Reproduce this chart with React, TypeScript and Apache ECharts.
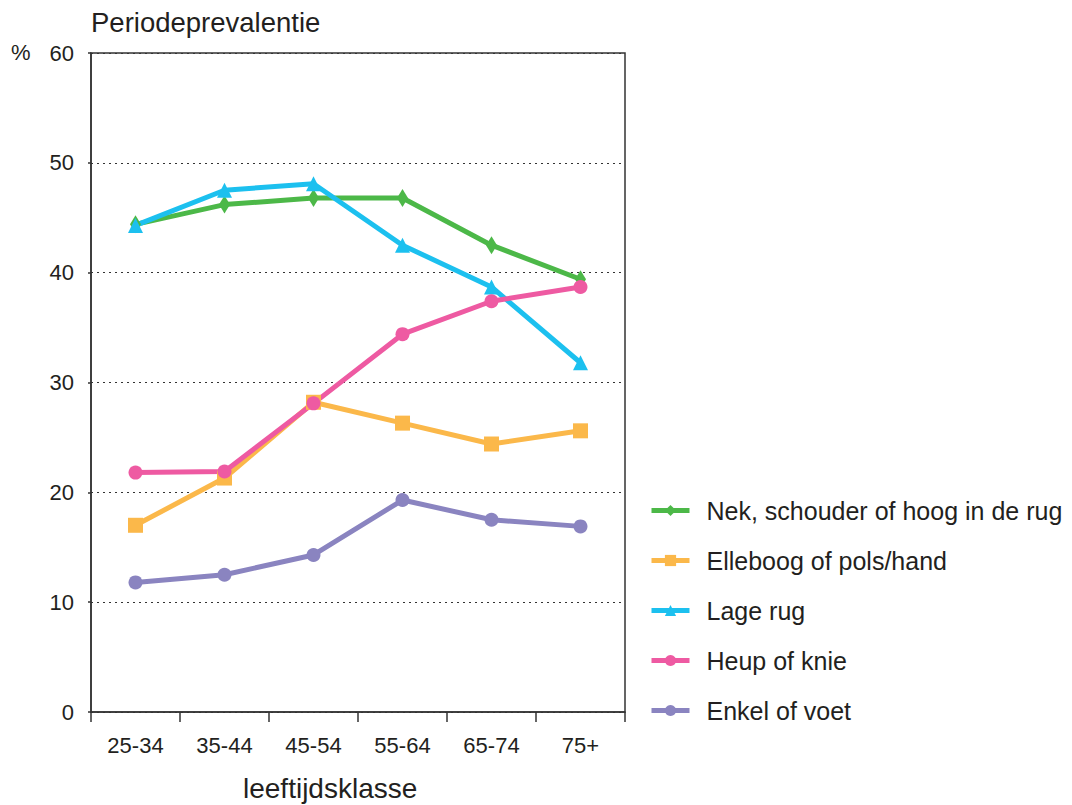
import React, { useEffect, useRef } from "react";
import * as echarts from "echarts";

const categories = ["25-34", "35-44", "45-54", "55-64", "65-74", "75+"];
const yTicks = [0, 10, 20, 30, 40, 50, 60];
const nek = [44.4, 46.2, 46.8, 46.8, 42.5, 39.4];
const elleboog = [17.0, 21.3, 28.2, 26.3, 24.4, 25.6];
const lageRug = [44.3, 47.5, 48.1, 42.5, 38.7, 31.8];
const heup = [21.8, 21.9, 28.1, 34.4, 37.4, 38.7];
const enkel = [11.8, 12.5, 14.3, 19.3, 17.5, 16.9];

const seriesNames = [
  "Nek, schouder of hoog in de rug",
  "Elleboog of pols/hand",
  "Lage rug",
  "Heup of knie",
  "Enkel of voet",
];

const FONT = "Liberation Sans, Arial, Helvetica, sans-serif";
const TXT = "#231f20";

export default function App() {
  const ref = useRef<HTMLDivElement>(null);
  useEffect(() => {
    if (!ref.current) return;
    const chart = echarts.init(ref.current, null, { renderer: "svg" });
    const mk = (name: string, data: number[], color: string, symbol: string, size: any) => ({
      name,
      type: "line",
      data,
      color,
      symbol,
      symbolSize: size,
      showAllSymbol: true,
      lineStyle: { width: 5, color },
      itemStyle: { color },
      z: 3,
    });
    chart.setOption({
      animation: false,
      backgroundColor: "#ffffff",
      textStyle: { fontFamily: FONT },
      grid: {
        left: 91,
        top: 53,
        width: 534,
        height: 659,
        show: true,
        borderColor: "#333",
        borderWidth: 1.5,
        backgroundColor: "transparent",
      },
      legend: {
        orient: "vertical",
        left: 644,
        top: 493,
        itemWidth: 38,
        itemHeight: 14,
        itemGap: 25,
        data: seriesNames,
        lineStyle: { width: 5 },
        textStyle: { fontSize: 25, color: TXT, fontFamily: FONT, padding: [0, 0, 0, 12] },
      },
      xAxis: {
        type: "category",
        data: categories,
        boundaryGap: true,
        axisLine: { lineStyle: { color: "#333", width: 1.5 } },
        axisTick: { show: true, alignWithLabel: false, length: 10, lineStyle: { color: "#333", width: 1.5 } },
        axisLabel: { fontSize: 22, color: TXT, margin: 22, fontFamily: FONT },
        splitLine: { show: false },
      },
      yAxis: {
        type: "value",
        min: yTicks[0],
        max: yTicks[yTicks.length - 1],
        interval: 10,
        axisLine: { show: true, lineStyle: { color: "#333", width: 1.5 } },
        axisTick: { show: true, length: 3, lineStyle: { color: "#333", width: 1.5 } },
        axisLabel: { fontSize: 22, color: TXT, margin: 17, fontFamily: FONT },
        splitLine: { show: true, lineStyle: { color: "#333", width: 1, type: [2, 4] } },
      },
      graphic: [
        {
          type: "text",
          left: 91,
          top: 8,
          style: { text: "Periodeprevalentie", fontSize: 27.5, fill: TXT, fontFamily: FONT },
        },
        {
          type: "text",
          left: 11,
          top: 41,
          style: { text: "%", fontSize: 22, fill: TXT, fontFamily: FONT },
        },
        {
          type: "text",
          left: 243,
          top: 774,
          style: { text: "leeftijdsklasse", fontSize: 28, fill: TXT, fontFamily: FONT },
        },
      ],
      series: [
        mk(seriesNames[0], nek, "#4cb848", "diamond", [11, 18]),
        mk(seriesNames[1], elleboog, "#fbb84a", "rect", 15),
        mk(seriesNames[2], lageRug, "#1cc0ef", "triangle", 15),
        mk(seriesNames[3], heup, "#ee5aa2", "circle", 14),
        mk(seriesNames[4], enkel, "#8a84c0", "circle", 14),
      ],
    });
    return () => chart.dispose();
  }, []);
  return <div ref={ref} style={{ width: 1072, height: 805, position: "absolute", left: 0, top: 0 }} />;
}
